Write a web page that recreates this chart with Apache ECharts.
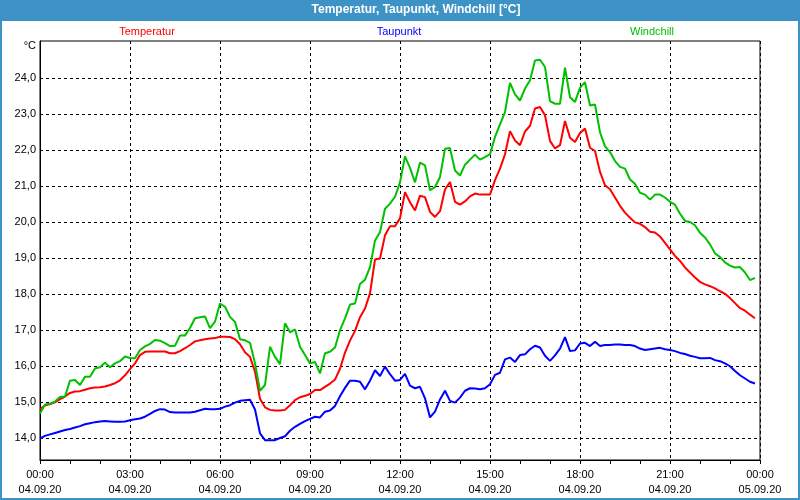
<!DOCTYPE html>
<html><head><meta charset="utf-8">
<script src="https://cdn.jsdelivr.net/npm/echarts@6/dist/echarts.min.js"></script>
<style>
html,body{margin:0;padding:0;background:#3d92c6;width:800px;height:500px;overflow:hidden;}
#frame{position:absolute;left:2px;top:21px;width:796px;height:477px;background:#ffffff;}
#chart{position:absolute;left:0;top:0;width:800px;height:500px;}
</style></head><body>
<div id="frame"></div>
<div id="chart"></div>
<script>
const chartTitle = 'Temperatur, Taupunkt, Windchill [°C]';
const seriesNames = ['Temperatur', 'Taupunkt', 'Windchill'];
const seriesColors = ['#ff0000', '#0000ff', '#00c000'];
const unitLabel = '°C';
const stepMinutes = 10;
const xTickLabels = ['00:00\n04.09.20', '03:00\n04.09.20', '06:00\n04.09.20', '09:00\n04.09.20',
  '12:00\n04.09.20', '15:00\n04.09.20', '18:00\n04.09.20', '21:00\n04.09.20', '00:00\n05.09.20'];
const yTickValues = [14, 15, 16, 17, 18, 19, 20, 21, 22, 23, 24];

const temperatur = [
  14.81, 14.91, 14.95, 15.00, 15.09, 15.16, 15.26, 15.30, 15.31, 15.35, 15.39, 15.41, 15.42, 15.44, 15.48, 15.53, 15.61, 15.75,
  15.92, 16.08, 16.31, 16.40, 16.41, 16.41, 16.41, 16.41, 16.36, 16.36, 16.42, 16.50, 16.59, 16.69, 16.72, 16.75, 16.77, 16.78,
  16.82, 16.82, 16.81, 16.75, 16.61, 16.39, 16.26, 15.85, 15.10, 14.86, 14.79, 14.77, 14.77, 14.79, 14.92, 15.06, 15.14, 15.18,
  15.23, 15.34, 15.34, 15.43, 15.52, 15.63, 15.93, 16.38, 16.71, 16.98, 17.36, 17.60, 18.02, 18.96, 18.99, 19.63, 19.88, 19.88,
  20.10, 20.83, 20.55, 20.32, 20.73, 20.69, 20.28, 20.14, 20.30, 20.90, 21.11, 20.56, 20.48, 20.57, 20.71, 20.79, 20.76, 20.76,
  20.76, 21.16, 21.48, 21.88, 22.52, 22.26, 22.13, 22.51, 22.67, 23.15, 23.19, 22.96, 22.25, 22.04, 22.13, 22.80, 22.34, 22.22,
  22.47, 22.59, 22.06, 21.97, 21.39, 21.02, 20.91, 20.68, 20.45, 20.26, 20.12, 19.99, 19.95, 19.86, 19.73, 19.71, 19.60, 19.42,
  19.24, 19.06, 18.92, 18.74, 18.60, 18.46, 18.34, 18.27, 18.22, 18.16, 18.08, 18.01, 17.89, 17.75, 17.61, 17.54, 17.43, 17.33
];
const taupunkt = [
  14.00, 14.07, 14.11, 14.15, 14.19, 14.23, 14.26, 14.30, 14.34, 14.39, 14.42, 14.45, 14.47, 14.48, 14.47, 14.46, 14.46, 14.47,
  14.50, 14.53, 14.55, 14.60, 14.68, 14.76, 14.81, 14.80, 14.73, 14.72, 14.72, 14.72, 14.72, 14.74, 14.78, 14.82, 14.81, 14.81,
  14.82, 14.88, 14.92, 14.99, 15.04, 15.06, 15.07, 14.80, 14.14, 13.95, 13.95, 13.95, 14.01, 14.06, 14.21, 14.32, 14.40, 14.48,
  14.54, 14.60, 14.58, 14.74, 14.77, 14.90, 15.17, 15.40, 15.60, 15.60, 15.57, 15.36, 15.60, 15.89, 15.73, 15.99, 15.78, 15.60,
  15.62, 15.79, 15.46, 15.39, 15.43, 15.11, 14.58, 14.74, 15.08, 15.32, 15.04, 14.99, 15.13, 15.32, 15.39, 15.38, 15.36, 15.39,
  15.50, 15.76, 15.82, 16.19, 16.24, 16.12, 16.31, 16.33, 16.47, 16.57, 16.52, 16.29, 16.15, 16.30, 16.49, 16.81, 16.42, 16.44,
  16.63, 16.65, 16.56, 16.68, 16.56, 16.59, 16.59, 16.60, 16.60, 16.59, 16.59, 16.56, 16.49, 16.45, 16.47, 16.49, 16.51, 16.47,
  16.45, 16.42, 16.37, 16.34, 16.29, 16.26, 16.22, 16.22, 16.23, 16.17, 16.14, 16.08, 16.00, 15.87, 15.75, 15.66, 15.57, 15.52
];
const windchill = [
  14.69, 14.94, 14.96, 15.02, 15.15, 15.16, 15.60, 15.62, 15.48, 15.71, 15.71, 15.94, 15.97, 16.10, 15.97, 16.08, 16.14, 16.27,
  16.23, 16.22, 16.45, 16.55, 16.62, 16.73, 16.71, 16.64, 16.56, 16.57, 16.85, 16.85, 17.06, 17.33, 17.36, 17.38, 17.06, 17.24,
  17.74, 17.65, 17.37, 17.23, 16.75, 16.72, 16.65, 16.08, 15.32, 15.48, 16.54, 16.26, 16.06, 17.19, 16.94, 17.02, 16.54, 16.31,
  16.08, 16.12, 15.80, 16.36, 16.40, 16.52, 17.00, 17.33, 17.71, 17.74, 18.28, 18.40, 18.75, 19.49, 19.72, 20.37, 20.51, 20.70,
  21.10, 21.82, 21.50, 21.10, 21.65, 21.57, 20.88, 20.97, 21.25, 22.03, 22.05, 21.43, 21.29, 21.59, 21.73, 21.87, 21.73, 21.80,
  21.88, 22.36, 22.71, 23.05, 23.86, 23.54, 23.37, 23.70, 23.93, 24.48, 24.50, 24.30, 23.35, 23.28, 23.28, 24.28, 23.46, 23.33,
  23.72, 23.88, 23.23, 23.26, 22.49, 22.10, 21.94, 21.69, 21.53, 21.48, 21.18, 21.06, 20.81, 20.76, 20.62, 20.76, 20.76, 20.68,
  20.56, 20.48, 20.23, 20.03, 20.00, 19.91, 19.70, 19.57, 19.38, 19.13, 19.03, 18.88, 18.79, 18.74, 18.75, 18.60, 18.39, 18.45
];

const seriesValues = [temperatur, taupunkt, windchill];
const toPairs = arr => arr.map((v, i) => [i * stepMinutes / 60, v]);

const FONT = '"Liberation Sans", Arial, sans-serif';
const chart = echarts.init(document.getElementById('chart'), null, {renderer: 'canvas'});
const legendX = [147, 399, 652];

chart.setOption({
  animation: false,
  backgroundColor: 'transparent',
  textStyle: {fontFamily: FONT},
  graphic: [
    {type: 'text', x: 416, y: 10, style: {text: chartTitle, fill: '#ffffff', font: 'bold 12px ' + FONT, textAlign: 'center', textVerticalAlign: 'middle'}},
    {type: 'text', x: 36, y: 46, style: {text: unitLabel, fill: '#000000', font: '11px ' + FONT, textAlign: 'right', textVerticalAlign: 'middle'}}
  ].concat(seriesNames.map((n, i) => ({
    type: 'text', x: legendX[i], y: 32,
    style: {text: n, fill: seriesColors[i], font: '11px ' + FONT, textAlign: 'center', textVerticalAlign: 'middle'}
  }))),
  grid: {left: 40, right: 40, top: 41, bottom: 40, show: true, backgroundColor: '#ffffff', borderColor: '#000000', borderWidth: 1},
  xAxis: {
    type: 'value', min: 0, max: 24, interval: 3,
    axisLine: {show: true, lineStyle: {color: '#000', width: 1}},
    axisTick: {show: true, length: 4, lineStyle: {color: '#000'}},
    minorTick: {show: true, splitNumber: 3, length: 4, lineStyle: {color: '#000'}},
    axisLabel: {
      color: '#000', fontSize: 11, fontFamily: FONT, lineHeight: 15, margin: 7,
      showMinLabel: true, showMaxLabel: true,
      formatter: v => xTickLabels[Math.round(v / 3)]
    },
    splitLine: {show: true, lineStyle: {color: '#000', width: 1, type: [3, 3]}}
  },
  yAxis: {
    type: 'value', min: 13.4, max: 25.02,
    axisLine: {show: true, lineStyle: {color: '#000', width: 1}},
    axisTick: {show: false, customValues: yTickValues},
    axisLabel: {
      customValues: yTickValues, color: '#000', fontSize: 11, fontFamily: FONT, margin: 4,
      formatter: v => v.toFixed(1).replace('.', ',')
    },
    splitLine: {show: true, lineStyle: {color: '#000', width: 1, type: [3, 3]}}
  },
  series: seriesNames.map((n, i) => ({
    name: n, type: 'line', data: toPairs(seriesValues[i]),
    showSymbol: false, symbol: 'none', smooth: false,
    lineStyle: {color: seriesColors[i], width: 2},
    itemStyle: {color: seriesColors[i]}
  }))
});
</script>
</body></html>
